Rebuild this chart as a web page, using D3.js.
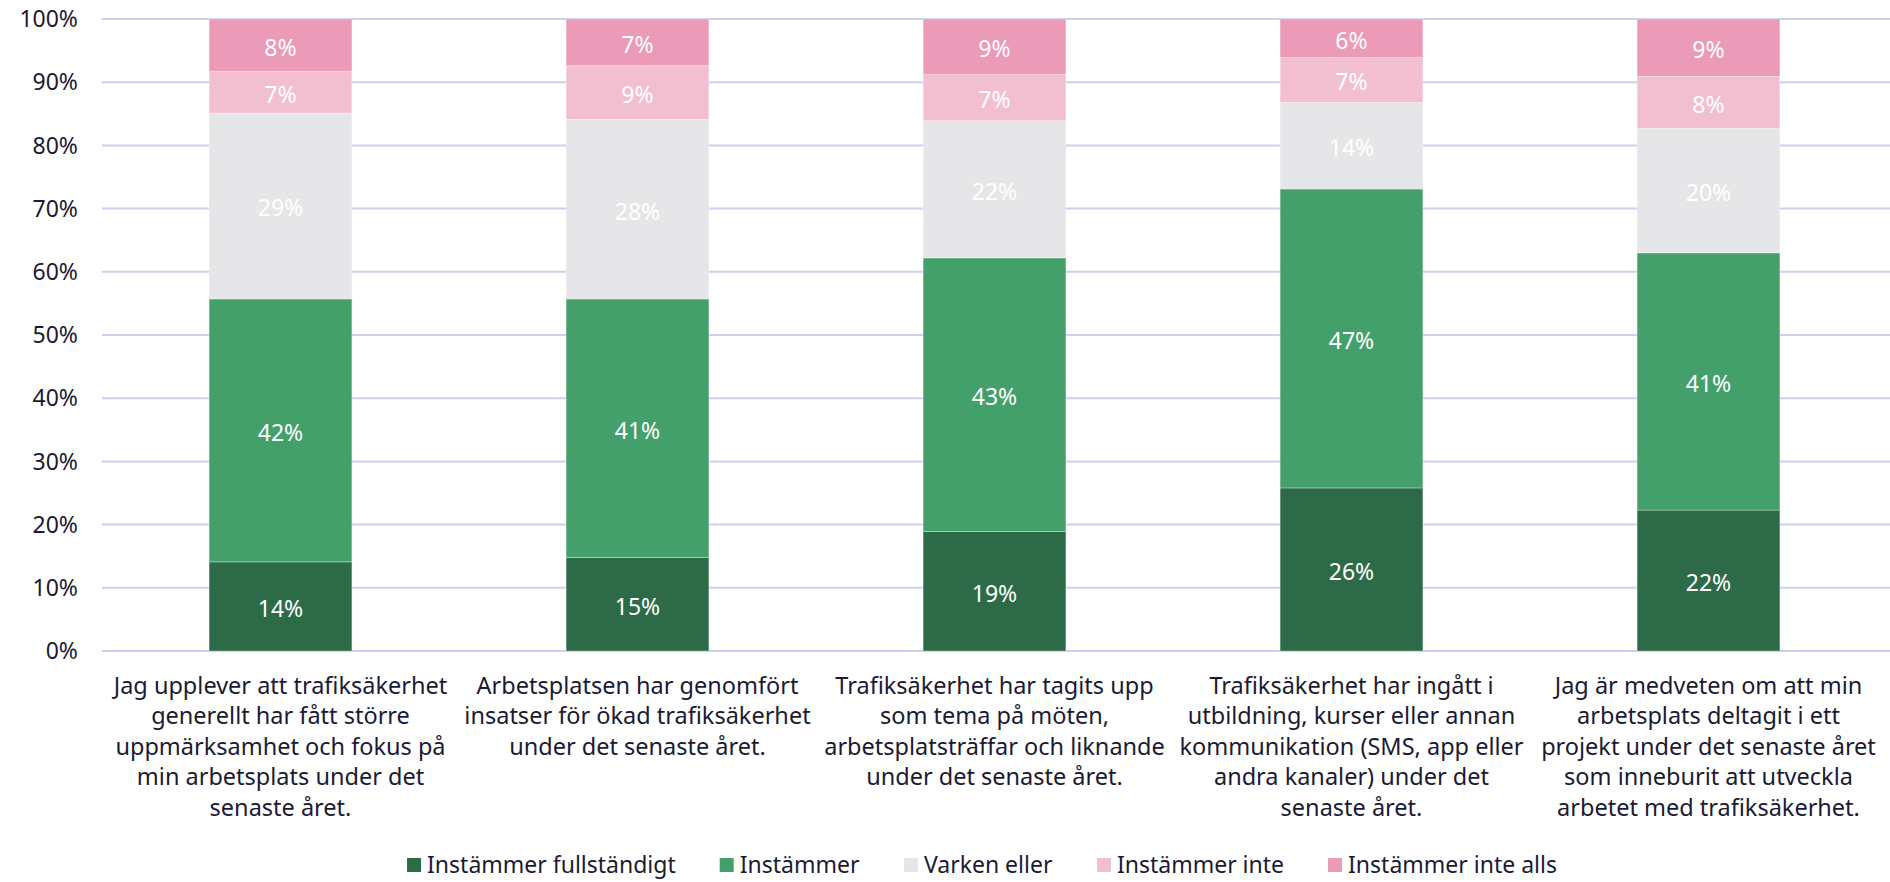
<!DOCTYPE html>
<html>
<head>
<meta charset="utf-8">
<script type="text/javascript" src="https://cdnjs.cloudflare.com/ajax/libs/d3/7.8.5/d3.min.js"></script>
<style>
	body { margin: 0; background: #fff; }
	text { font-family: "Noto Sans", Lato, sans-serif; }
</style>
</head>
<body>
<div id="chart"></div>
<script type="text/javascript">
// category labels, one entry per line as wrapped in the original
var categories = [
	["Jag upplever att trafiksäkerhet", "generellt har fått större", "uppmärksamhet och fokus på", "min arbetsplats under det", "senaste året."],
	["Arbetsplatsen har genomfört", "insatser för ökad trafiksäkerhet", "under det senaste året."],
	["Trafiksäkerhet har tagits upp", "som tema på möten,", "arbetsplatsträffar och liknande", "under det senaste året."],
	["Trafiksäkerhet har ingått i", "utbildning, kurser eller annan", "kommunikation (SMS, app eller", "andra kanaler) under det", "senaste året."],
	["Jag är medveten om att min", "arbetsplats deltagit i ett", "projekt under det senaste året", "som inneburit att utveckla", "arbetet med trafiksäkerhet."]
];

var seriesNames = ["Instämmer fullständigt", "Instämmer", "Varken eller", "Instämmer inte", "Instämmer inte alls"];

// percent values per series, one per category
var fullstandigt = [14.1, 14.8, 18.9, 25.8, 22.3];
var instammer    = [41.6, 40.9, 43.3, 47.3, 40.7];
var varken       = [29.4, 28.4, 21.7, 13.7, 19.7];
var inte         = [6.6, 8.5, 7.3, 7.1, 8.2];
var inteAlls     = [8.3, 7.4, 8.8, 6.1, 9.1];

var yTicks = [0, 10, 20, 30, 40, 50, 60, 70, 80, 90, 100];

var colors = ["#2d6b48", "#43a06b", "#e6e6e8", "#f2bfd1", "#eb9ab7"];

var W = 1890, H = 882;
var svg = d3.select("#chart").append("svg")
	.attr("width", W)
	.attr("height", H);

var x = d3.scaleBand()
	.domain(d3.range(categories.length))
	.range([102, 1887])
	.paddingInner(0.6)
	.paddingOuter(0.3);

var y = d3.scaleLinear()
	.domain([0, 100])
	.range([651, 19]);

// gridlines
svg.append("g").selectAll("line")
	.data(yTicks)
	.enter().append("line")
	.attr("x1", 102)
	.attr("x2", W)
	.attr("y1", function(d) { return y(d); })
	.attr("y2", function(d) { return y(d); })
	.attr("stroke", "#cfcdf1")
	.attr("stroke-width", 2);

// y tick labels
svg.append("g").selectAll("text")
	.data(yTicks)
	.enter().append("text")
	.attr("x", 78)
	.attr("y", function(d) { return y(d); })
	.attr("dy", "0.36em")
	.attr("text-anchor", "end")
	.attr("fill", "#1b1a33")
	.attr("font-size", 23)
	.text(function(d) { return d + "%"; });

// stack the data
var rows = categories.map(function(c, i) {
	return { i: i, s0: fullstandigt[i], s1: instammer[i], s2: varken[i], s3: inte[i], s4: inteAlls[i] };
});
var stack = d3.stack().keys(["s0", "s1", "s2", "s3", "s4"]);
var layers = stack(rows);

var g = svg.append("g").selectAll("g")
	.data(layers)
	.enter().append("g")
	.attr("fill", function(d, k) { return colors[k]; });

g.selectAll("rect")
	.data(function(d) { return d; })
	.enter().append("rect")
	.attr("x", function(d) { return x(d.data.i); })
	.attr("width", x.bandwidth())
	.attr("y", function(d) { return y(d[1]); })
	.attr("height", function(d) { return y(d[0]) - y(d[1]); })
	.attr("stroke", "#ffffff")
	.attr("stroke-opacity", 0.4)
	.attr("stroke-width", 0.8);

g.selectAll("text")
	.data(function(d) { return d; })
	.enter().append("text")
	.attr("x", function(d) { return x(d.data.i) + x.bandwidth() / 2; })
	.attr("y", function(d) { return (y(d[0]) + y(d[1])) / 2 + 2; })
	.attr("dy", "0.36em")
	.attr("text-anchor", "middle")
	.attr("fill", "#ffffff")
	.attr("font-size", 23)
	.text(function(d) { return Math.round(d[1] - d[0]) + "%"; });

// category labels
var cat = svg.append("g").selectAll("text")
	.data(categories)
	.enter().append("text")
	.attr("text-anchor", "middle")
	.attr("fill", "#1b1a33")
	.attr("font-size", 23.5)
	.attr("x", function(d, i) { return x(i) + x.bandwidth() / 2; })
	.attr("y", 694);

cat.selectAll("tspan")
	.data(function(d, i) { return d.map(function(l) { return { l: l, i: i }; }); })
	.enter().append("tspan")
	.attr("x", function(d) { return x(d.i) + x.bandwidth() / 2; })
	.attr("dy", function(d, j) { return j === 0 ? 0 : 30.4; })
	.text(function(d) { return d.l; });

// legend
var legend = svg.append("g");
var items = legend.selectAll("g")
	.data(seriesNames)
	.enter().append("g");
items.append("rect")
	.attr("width", 14)
	.attr("height", 14)
	.attr("y", 858)
	.attr("fill", function(d, k) { return colors[k]; });
items.append("text")
	.attr("x", 20)
	.attr("y", 865)
	.attr("dy", "0.36em")
	.attr("fill", "#1b1a33")
	.attr("font-size", 23)
	.text(function(d) { return d; });

var pos = 0, offsets = [];
items.each(function() {
	offsets.push(pos);
	pos += this.getBBox().width + 44;
});
var total = pos - 44;
var start = 982 - total / 2;
items.attr("transform", function(d, k) { return "translate(" + (start + offsets[k]) + ",0)"; });
</script>
</body>
</html>
